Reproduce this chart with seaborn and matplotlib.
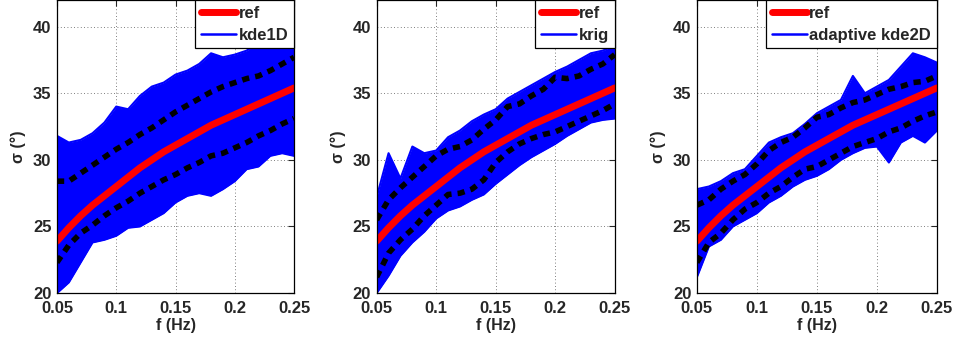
import numpy as np
import pandas as pd
import seaborn as sns
import matplotlib.pyplot as plt
from matplotlib.lines import Line2D

# frequency grid (Hz)
freq = [0.05, 0.06, 0.07, 0.08, 0.09, 0.10, 0.11, 0.12, 0.13, 0.14, 0.15,
        0.16, 0.17, 0.18, 0.19, 0.20, 0.21, 0.22, 0.23, 0.24, 0.25]

# reference curve (same in all panels)
ref = [23.9, 24.9, 25.8, 26.6, 27.3, 28.0, 28.7, 29.4, 30.0, 30.6, 31.1,
       31.6, 32.1, 32.6, 33.0, 33.4, 33.8, 34.2, 34.6, 35.0, 35.4]

methods = ["kde1D", "krig", "adaptive kde2D"]

# envelope of the blue realisations
blue_hi = {
    "kde1D": [31.8, 31.3, 31.5, 32.0, 32.8, 34.0, 33.8, 34.8, 35.5, 35.8, 36.4,
              36.7, 37.2, 38.0, 37.7, 37.9, 38.2, 38.8, 38.8, 39.3, 39.8],
    "krig": [27.2, 30.5, 28.6, 31.0, 30.5, 30.7, 31.7, 32.2, 32.9, 33.4, 33.8,
             34.6, 35.1, 35.6, 36.1, 36.6, 37.0, 37.5, 38.0, 38.2, 38.6],
    "adaptive kde2D": [27.8, 28.0, 28.4, 29.0, 29.3, 30.3, 31.3, 31.7, 32.0, 32.7, 33.5,
                       34.0, 34.5, 36.3, 35.0, 35.5, 36.0, 37.0, 38.0, 37.7, 37.3],
}
blue_lo = {
    "kde1D": [20.0, 20.8, 22.3, 23.8, 24.0, 24.3, 24.9, 25.0, 25.5, 26.0, 26.8,
              27.3, 27.5, 27.3, 27.8, 28.4, 29.3, 29.5, 30.3, 30.5, 30.3],
    "krig": [20.0, 21.3, 22.8, 23.8, 24.6, 25.6, 26.2, 26.5, 27.0, 27.4, 28.2,
             28.9, 29.6, 30.2, 30.7, 31.2, 31.8, 32.3, 32.8, 33.0, 33.1],
    "adaptive kde2D": [21.2, 23.5, 24.0, 25.0, 25.5, 26.0, 26.8, 27.3, 28.0, 28.5, 28.8,
                       29.3, 30.0, 30.5, 30.9, 31.0, 29.8, 31.3, 31.8, 31.3, 32.2],
}

# black dotted bounds
bound_hi = {
    "kde1D": [28.4, 28.4, 29.0, 29.6, 30.2, 30.8, 31.3, 31.9, 32.4, 33.0, 33.6,
              34.1, 34.6, 35.1, 35.5, 35.8, 36.1, 36.3, 36.7, 37.2, 37.7],
    "krig": [25.5, 27.0, 27.9, 28.7, 29.5, 30.3, 30.8, 31.0, 31.5, 32.3, 33.0,
             34.0, 34.2, 34.8, 35.3, 36.2, 36.1, 36.3, 36.8, 37.2, 37.9],
    "adaptive kde2D": [26.6, 27.0, 27.8, 28.4, 28.9, 29.7, 30.7, 31.3, 31.7, 32.4, 33.2,
                       33.4, 33.9, 34.3, 34.5, 34.9, 35.3, 35.5, 35.8, 35.9, 36.3],
}
bound_lo = {
    "kde1D": [22.3, 23.6, 24.5, 25.1, 25.8, 26.4, 26.9, 27.5, 28.0, 28.5, 28.9,
              29.4, 29.8, 30.3, 30.5, 30.9, 31.3, 31.8, 32.2, 32.7, 33.1],
    "krig": [21.2, 23.0, 24.0, 24.8, 25.8, 26.6, 27.4, 27.5, 27.8, 28.5, 29.8,
             30.6, 31.2, 31.6, 31.9, 32.1, 32.5, 32.9, 33.3, 33.7, 34.2],
    "adaptive kde2D": [22.3, 23.8, 24.5, 25.5, 26.3, 26.8, 27.5, 28.0, 28.7, 29.3, 29.5,
                       30.0, 30.5, 31.0, 31.3, 31.6, 32.1, 32.4, 32.9, 33.3, 33.6],
}

xticks = [0.05, 0.1, 0.15, 0.2, 0.25]
xticklabels = ["0.05", "0.1", "0.15", "0.2", "0.25"]
yticks = [20, 25, 30, 35, 40]

sns.set_style("white")
plt.rcParams['font.family'] = ['Liberation Sans', 'DejaVu Sans']
plt.rcParams['font.weight'] = 'bold'

fig = plt.figure(figsize=(9.56, 3.4), dpi=100)
lefts = [0.0596, 0.394, 0.729]
widths = [0.248, 0.249, 0.251]

for i, m in enumerate(methods):
    ax = fig.add_axes([lefts[i], 0.138, widths[i], 0.862])
    df = pd.DataFrame({"f": freq, "ref": ref, "hi": blue_hi[m], "lo": blue_lo[m],
                       "bhi": bound_hi[m], "blo": bound_lo[m]})

    ax.fill_between(df["f"], df["lo"], df["hi"], color="#0000ff", lw=0)
    sns.lineplot(data=df, x="f", y="hi", ax=ax, color="#0000ff", lw=1.5)
    sns.lineplot(data=df, x="f", y="lo", ax=ax, color="#0000ff", lw=1.5)
    for col in ["bhi", "blo"]:
        sns.lineplot(data=df, x="f", y=col, ax=ax, color="black", lw=4,
                     linestyle=(0, (1.3, 1.1)))
    sns.lineplot(data=df, x="f", y="ref", ax=ax, color="#ff0000", lw=5)

    ax.set_xlim(0.05, 0.25)
    ax.set_ylim(20, 42)
    ax.set_xticks(xticks)
    ax.set_xticklabels(xticklabels)
    ax.set_yticks(yticks)
    ax.grid(True, linestyle=(0, (1, 3)), color="#555555", lw=0.6)
    ax.tick_params(direction="in", length=4, labelsize=12, top=True, right=True,
                   width=0.8)
    ax.tick_params(axis="x", pad=6)
    ax.tick_params(axis="y", pad=4)
    for lab in ax.get_xticklabels() + ax.get_yticklabels():
        lab.set_fontweight("bold")
    for sp in ax.spines.values():
        sp.set_color("black")
        sp.set_linewidth(0.9)
    ax.set_xlabel("f (Hz)", fontsize=11.5, fontweight="bold", labelpad=1)
    ax.set_ylabel("σ (°)", fontsize=11.5, fontweight="bold", labelpad=5)

    handles = [Line2D([0], [0], color="#ff0000", lw=5),
               Line2D([0], [0], color="#0000ff", lw=1.8)]
    leg = ax.legend(handles, ["ref", m], loc="upper right",
                    frameon=True, fancybox=False, framealpha=1, handlelength=2.1,
                    borderaxespad=0, borderpad=0.35, handletextpad=0.15,
                    labelspacing=0.4, prop={"weight": "bold", "size": 12})
    leg.get_frame().set_edgecolor("black")
    leg.get_frame().set_linewidth(0.9)

fig.savefig("out.png", dpi=100)
